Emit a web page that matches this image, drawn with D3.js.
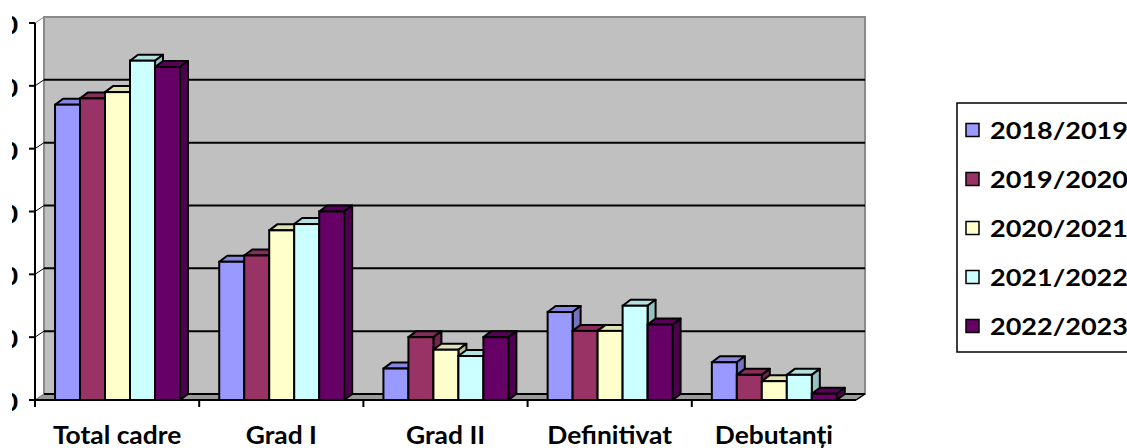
<!DOCTYPE html>
<html><head><meta charset="utf-8">
<script src="https://cdn.jsdelivr.net/npm/d3@7"></script>
<style>html,body{margin:0;padding:0;background:#fff;overflow:hidden}</style>
</head><body>
<svg id="c" width="1127" height="448"></svg>
<script>
const categories = ["Total cadre", "Grad I", "Grad II", "Definitivat", "Debutanți"];
const seriesNames = ["2018/2019", "2019/2020", "2020/2021", "2021/2022", "2022/2023"];
const values2018_2019 = [47, 22, 5, 14, 6];
const values2019_2020 = [48, 23, 10, 11, 4];
const values2020_2021 = [49, 27, 8, 11, 3];
const values2021_2022 = [54, 28, 7, 15, 4];
const values2022_2023 = [53, 30, 10, 12, 1];
const yTicks = [0, 10, 20, 30, 40, 50, 60];
const seriesColors = ["#9999FF", "#993366", "#FFFFCC", "#CCFFFF", "#660066"];

const seriesValues = [values2018_2019, values2019_2020, values2020_2021, values2021_2022, values2022_2023];

const svg = d3.select("#c");
const x0 = 35, x1 = 856, yBottom = 400, yTop = 23;
const wallDx = 9, wallDy = -6, barDx = 8, barDy = -6;
const FONT = "Lato, 'Open Sans', sans-serif";

const y = d3.scaleLinear().domain([0, 60]).range([yBottom, yTop]);
const x = d3.scaleBand().domain(categories).range([x0, x1]).padding(0);
const bw = x.bandwidth();
const xs = d3.scaleBand().domain(seriesNames).range([bw * 0.122, bw * 0.883]).padding(0);
const color = d3.scaleOrdinal().domain(seriesNames).range(seriesColors);

const poly = pts => "M" + pts.map(p => p.join(",")).join("L") + "Z";

// back wall
svg.append("path")
  .attr("d", poly([[x0 + wallDx, y(60) + wallDy], [x1 + wallDx, y(60) + wallDy], [x1 + wallDx, y(0) + wallDy], [x0 + wallDx, y(0) + wallDy]]))
  .attr("fill", "#c0c0c0").attr("stroke", "#8a8a8a").attr("stroke-width", 2);

// floor
svg.append("path")
  .attr("d", poly([[x0, y(0)], [x1, y(0)], [x1 + wallDx, y(0) + wallDy], [x0 + wallDx, y(0) + wallDy]]))
  .attr("fill", "#9a9a9a").attr("stroke", "#7a7a7a").attr("stroke-width", 1);

// gridlines on back wall + diagonals on side
svg.append("g").selectAll("line").data(yTicks.filter(t => t < 60)).join("line")
  .attr("x1", x0 + wallDx).attr("x2", x1 + wallDx)
  .attr("y1", d => y(d) + wallDy).attr("y2", d => y(d) + wallDy)
  .attr("stroke", "#000").attr("stroke-width", 2);
svg.append("g").selectAll("line").data(yTicks).join("line")
  .attr("x1", x0).attr("x2", x0 + wallDx)
  .attr("y1", d => y(d)).attr("y2", d => y(d) + wallDy)
  .attr("stroke", d => d === 0 || d === 60 ? "#8a8a8a" : "#000").attr("stroke-width", 1);

// bars
const barsG = svg.append("g");
categories.forEach((c, ci) => {
  seriesNames.forEach((s, si) => {
    const v = seriesValues[si][ci];
    const bx = x(c) + xs(s), w = xs.bandwidth(), top = y(v), bot = y(0);
    const base = d3.color(color(s));
    const g = barsG.append("g");
    g.append("path")
      .attr("d", poly([[bx, top], [bx + barDx, top + barDy], [bx + w + barDx, top + barDy], [bx + w, top]]))
      .attr("fill", base.darker(0.35)).attr("stroke", "#000").attr("stroke-width", 2).attr("stroke-linejoin", "round");
    g.append("path")
      .attr("d", poly([[bx + w, top], [bx + w + barDx, top + barDy], [bx + w + barDx, bot + barDy], [bx + w, bot]]))
      .attr("fill", base.darker(0.8)).attr("stroke", "#000").attr("stroke-width", 2).attr("stroke-linejoin", "round");
    g.append("rect")
      .attr("x", bx).attr("y", top).attr("width", w).attr("height", bot - top)
      .attr("fill", base).attr("stroke", "#000").attr("stroke-width", 2);
  });
});

// axes
svg.append("line").attr("x1", x0).attr("x2", x0).attr("y1", y(60)).attr("y2", y(0) + 7)
  .attr("stroke", "#000").attr("stroke-width", 2);
svg.append("g").selectAll("line").data(yTicks).join("line")
  .attr("x1", x0 - 6).attr("x2", x0).attr("y1", d => y(d)).attr("y2", d => y(d))
  .attr("stroke", "#000").attr("stroke-width", 2);
svg.append("line").attr("x1", x0).attr("x2", x1).attr("y1", y(0)).attr("y2", y(0))
  .attr("stroke", "#000").attr("stroke-width", 2);
svg.append("line").attr("x1", x1).attr("x2", x1 + wallDx).attr("y1", y(0)).attr("y2", y(0) + wallDy)
  .attr("stroke", "#000").attr("stroke-width", 1.5);
svg.append("g").selectAll("line").data(categories.slice(1)).join("line")
  .attr("x1", d => x(d)).attr("x2", d => x(d)).attr("y1", y(0)).attr("y2", y(0) + 7)
  .attr("stroke", "#000").attr("stroke-width", 2);

// y tick labels (clipped at the left edge like the reference)
svg.append("clipPath").attr("id", "yclip").append("rect")
  .attr("x", 12).attr("y", 0).attr("width", 20).attr("height", 448);
svg.append("g").attr("clip-path", "url(#yclip)").selectAll("text").data(yTicks).join("text")
  .attr("x", 18).attr("y", d => y(d) + 1)
  .attr("text-anchor", "end").attr("dominant-baseline", "central")
  .attr("font-family", FONT).attr("font-weight", "900").attr("font-size", 25)
  .text(d => d);

// category labels
svg.append("g").selectAll("text").data(categories).join("text")
  .attr("transform", d => `translate(${x(d) + bw / 2},444) scale(1.1,1)`)
  .attr("text-anchor", "middle")
  .attr("font-family", FONT).attr("font-weight", "bold").attr("font-size", 24)
  .attr("fill", "#000")
  .text(d => d);

// legend
const lg = svg.append("g");
lg.append("rect").attr("x", 957).attr("y", 103).attr("width", 200).attr("height", 249)
  .attr("fill", "#fff").attr("stroke", "#000").attr("stroke-width", 1.5);
seriesNames.forEach((s, i) => {
  const cy = 130 + i * 49;
  lg.append("rect").attr("x", 966).attr("y", cy - 6.5).attr("width", 13).attr("height", 13)
    .attr("fill", color(s)).attr("stroke", "#000").attr("stroke-width", 1.5);
  lg.append("text")
    .attr("transform", `translate(990,${cy}) scale(1.15,1)`)
    .attr("dominant-baseline", "central")
    .attr("font-family", FONT).attr("font-weight", "bold").attr("font-size", 23.5)
    .text(s);
});
</script>
</body></html>
